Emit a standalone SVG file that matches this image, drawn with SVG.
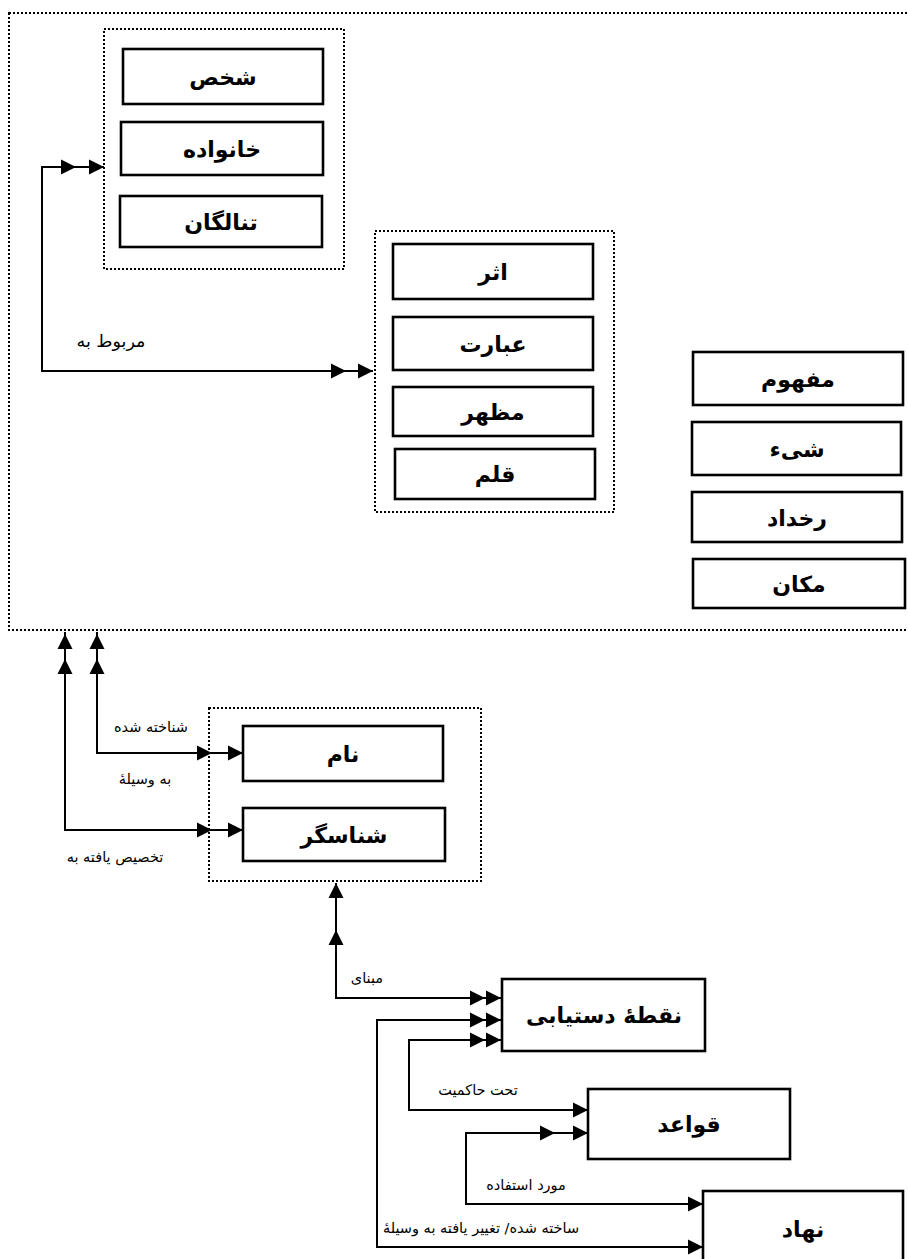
<svg xmlns="http://www.w3.org/2000/svg" xmlns:xlink="http://www.w3.org/1999/xlink" width="908" height="1259" viewBox="0 0 908 1259">
<style>
.bg{fill:#fff}
.grp{fill:none;stroke:#000;stroke-width:2;stroke-dasharray:2 2}
.box{fill:#fff;stroke:#000;stroke-width:2.6}
.lbl{font-family:"DejaVu Sans","Noto Sans",sans-serif;font-weight:bold;font-size:22px;text-anchor:middle;direction:rtl;fill:#000}
.sm{font-family:"DejaVu Sans","Noto Sans",sans-serif;font-size:14.5px;text-anchor:middle;direction:rtl;fill:#000}
.ln{fill:none;stroke:#000;stroke-width:2}
</style>
<defs>
<path id="ar" d="M0,0 L-15,-7.5 L-15,7.5 Z" fill="#000"/>
</defs>
<rect class="bg" x="0" y="0" width="908" height="1259"/>

<g id="outer-group">
<rect class="grp" x="9" y="13" width="920" height="617"/>
</g>

<g id="group-person">
<rect class="grp" x="104" y="29" width="240" height="240"/>
</g>
<g id="node-shakhs"><rect class="box" x="123" y="49" width="200" height="55"/><text class="lbl" x="223" y="85">شخص</text></g>
<g id="node-khanevadeh"><rect class="box" x="121" y="122" width="202" height="53"/><text class="lbl" x="222" y="157">خانواده</text></g>
<g id="node-tanalgan"><rect class="box" x="120" y="196" width="202" height="51"/><text class="lbl" x="221" y="230">تنالگان</text></g>

<g id="group-work">
<rect class="grp" x="375" y="231" width="239" height="281"/>
</g>
<g id="node-asar"><rect class="box" x="393" y="244" width="200" height="55"/><text class="lbl" x="493" y="280">اثر</text></g>
<g id="node-ebarat"><rect class="box" x="393" y="317" width="200" height="53"/><text class="lbl" x="493" y="352">عبارت</text></g>
<g id="node-mazhar"><rect class="box" x="393" y="387" width="200" height="49"/><text class="lbl" x="493" y="420">مظهر</text></g>
<g id="node-qalam"><rect class="box" x="395" y="449" width="200" height="50"/><text class="lbl" x="495" y="482">قلم</text></g>

<g id="node-mafhoum"><rect class="box" x="693" y="352" width="210" height="53"/><text class="lbl" x="798" y="387">مفهوم</text></g>
<g id="node-shey"><rect class="box" x="692" y="422" width="209" height="53"/><text class="lbl" x="797" y="457">شیء</text></g>
<g id="node-rokhdad"><rect class="box" x="692" y="492" width="210" height="50"/><text class="lbl" x="797" y="526">رخداد</text></g>
<g id="node-makan"><rect class="box" x="693" y="559" width="212" height="49"/><text class="lbl" x="799" y="592">مکان</text></g>

<g id="group-name">
<rect class="grp" x="209" y="708" width="272" height="173"/>
</g>
<g id="node-nam"><rect class="box" x="243" y="726" width="200" height="55"/><text class="lbl" x="343" y="762">نام</text></g>
<g id="node-shenasgar"><rect class="box" x="243" y="808" width="202" height="53"/><text class="lbl" x="344" y="843">شناسگر</text></g>

<g id="node-noghteh"><rect class="box" x="502" y="979" width="203" height="72"/><text class="lbl" x="604" y="1023">نقطهٔ دستیابی</text></g>
<g id="node-ghavaed"><rect class="box" x="588" y="1089" width="202" height="70"/><text class="lbl" x="689" y="1132">قواعد</text></g>
<g id="node-nahad"><rect class="box" x="703" y="1191" width="200" height="80"/><text class="lbl" x="803" y="1237">نهاد</text></g>

<g id="connectors">
<path class="ln" d="M104,167 H42 V371 H373"/>
<use xlink:href="#ar" transform="translate(76,167)"/>
<use xlink:href="#ar" transform="translate(104,167)"/>
<use xlink:href="#ar" transform="translate(346,371)"/>
<use xlink:href="#ar" transform="translate(373,371)"/>

<path class="ln" d="M97,632 V753 H243"/>
<use xlink:href="#ar" transform="translate(97,634) rotate(-90)"/>
<use xlink:href="#ar" transform="translate(97,659) rotate(-90)"/>
<use xlink:href="#ar" transform="translate(212,753)"/>
<use xlink:href="#ar" transform="translate(243,753)"/>

<path class="ln" d="M65,632 V830 H243"/>
<use xlink:href="#ar" transform="translate(65,634) rotate(-90)"/>
<use xlink:href="#ar" transform="translate(65,659) rotate(-90)"/>
<use xlink:href="#ar" transform="translate(212,830)"/>
<use xlink:href="#ar" transform="translate(243,830)"/>

<path class="ln" d="M336,883 V998 H501"/>
<use xlink:href="#ar" transform="translate(336,883) rotate(-90)"/>
<use xlink:href="#ar" transform="translate(336,930) rotate(-90)"/>
<use xlink:href="#ar" transform="translate(485,998)"/>
<use xlink:href="#ar" transform="translate(501,998)"/>

<path class="ln" d="M501,1020 H377 V1247 H703"/>
<use xlink:href="#ar" transform="translate(485,1020)"/>
<use xlink:href="#ar" transform="translate(501,1020)"/>
<use xlink:href="#ar" transform="translate(703,1247)"/>

<path class="ln" d="M501,1040 H409 V1110 H588"/>
<use xlink:href="#ar" transform="translate(485,1040)"/>
<use xlink:href="#ar" transform="translate(501,1040)"/>
<use xlink:href="#ar" transform="translate(588,1110)"/>

<path class="ln" d="M588,1133 H466 V1204 H703"/>
<use xlink:href="#ar" transform="translate(555,1133)"/>
<use xlink:href="#ar" transform="translate(588,1133)"/>
<use xlink:href="#ar" transform="translate(703,1204)"/>

<text class="sm" x="111" y="347" style="font-size:17.5px">مربوط به</text>
<text class="sm" x="151" y="732">شناخته شده</text>
<text class="sm" x="145" y="784">به وسیلهٔ</text>
<text class="sm" x="115" y="862">تخصیص یافته به</text>
<text class="sm" x="367" y="983">مبنای</text>
<text class="sm" x="478" y="1095">تحت حاکمیت</text>
<text class="sm" x="526" y="1190">مورد استفاده</text>
<text class="sm" x="481" y="1233">ساخته شده/ تغییر یافته به وسیلهٔ</text>
</g>
</svg>
